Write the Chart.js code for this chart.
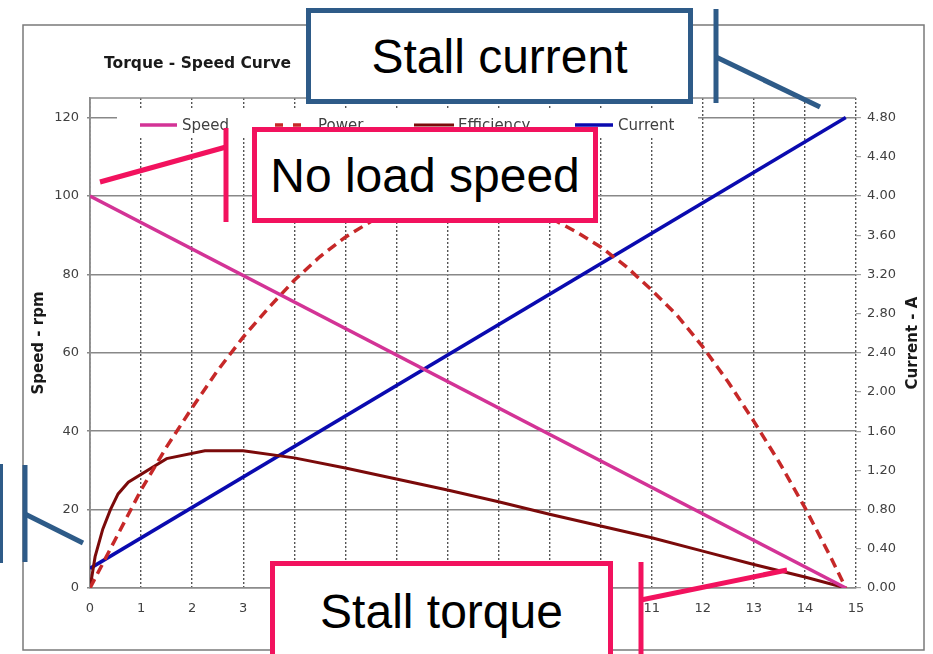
<!DOCTYPE html>
<html>
<head>
<meta charset="utf-8">
<script src="https://cdn.jsdelivr.net/npm/chart.js@4.4.1/dist/chart.umd.min.js"></script>
<style>
  html, body { margin: 0; padding: 0; background: #fff; }
  #wrap { position: relative; width: 933px; height: 654px; overflow: hidden; }
  #chart { position: absolute; left: 0; top: 0; }
  svg { position: absolute; left: 0; top: 0; }
  .callout {
    position: absolute; box-sizing: border-box; background: #fff;
    border: 5px solid; color: #000;
    font-family: 'Liberation Sans', Arial, sans-serif; font-size: 48px;
    display: flex; align-items: center; justify-content: center; white-space: nowrap;
  }
  .blue { border-color: #2E5B88; }
  .pink { border-color: #F2125E; }
</style>
</head>
<body>
<div id="wrap">
  <canvas id="chart" width="933" height="654"></canvas>
  <svg width="933" height="654">
    <g stroke="#2E5B88" stroke-width="5">
      <line x1="716" y1="9" x2="716" y2="103" />
      <line x1="716" y1="57" x2="820" y2="107" />
      <line x1="25" y1="465" x2="25" y2="562" />
      <line x1="25" y1="514" x2="83" y2="543" />
    </g>
    <g stroke="#F2125E" stroke-width="5">
      <line x1="226" y1="128" x2="226" y2="222" />
      <line x1="226" y1="147" x2="100" y2="182" />
      <line x1="641" y1="562" x2="641" y2="660" />
      <line x1="641" y1="600" x2="787" y2="570" />
    </g>
  </svg>
  <div class="callout blue" style="left:306px;top:8px;width:387px;height:96px">Stall current</div>
  <div class="callout pink" style="left:252px;top:127px;width:346px;height:96px">No load speed</div>
  <div class="callout pink" style="left:270px;top:561px;width:343px;height:96px;border-bottom:none">Stall torque</div>
  <div class="callout blue" style="left:-300px;top:464px;width:303px;height:99px"></div>
</div>
<script>
// torque axis (x) and the four curves
const torqueEnds = [0, 14.8];
const speedRpm = [100, 0];
const currentAmps = [0.2, 4.8];

const powerTorque = [0, 0.5, 1, 1.5, 2, 2.5, 3, 3.5, 4, 4.5, 5, 5.5, 6, 6.5, 7, 7.5,
  8, 8.5, 9, 9.5, 10, 10.5, 11, 11.5, 12, 12.5, 13, 13.5, 14, 14.5, 14.8];
const powerValues = [0, 12.5, 25, 36, 46, 55.5, 64, 71.5, 78.5, 84.5, 89.5, 93.5, 96.5, 98.5, 99.5, 99.8,
  99, 97.5, 94.5, 91, 87, 82, 76, 69.5, 61.5, 52.5, 42.5, 32, 20.5, 8, 0];

const effTorque = [0, 0.1, 0.25, 0.4, 0.55, 0.75, 1.5, 2.25, 3, 4, 5, 6, 7, 8, 9, 10, 11, 12, 13, 14, 14.8];
const effValues = [0, 8, 15, 20, 24, 27, 33, 35, 35, 33.2, 30.6, 27.8, 25, 22, 18.8, 15.8, 12.8, 9.4, 6, 2.8, 0];

const seriesNames = ['Speed', 'Power', 'Efficiency', 'Current'];
const chartTitle = 'Torque - Speed Curve';
const leftTitle = 'Speed - rpm';
const rightTitle = 'Current - A';

const pairs = (xs, ys) => xs.map((x, i) => ({ x: x, y: ys[i] }));

Chart.defaults.font.family = '"DejaVu Sans", Verdana, sans-serif';
Chart.defaults.color = '#404040';

// frame, title, axis titles and the legend inside the plot
const decor = {
  id: 'decor',
  beforeDatasetsDraw(chart) {
    const { ctx, chartArea: a } = chart;
    ctx.save();
    ctx.strokeStyle = '#8c8c8c';
    ctx.lineWidth = 1.5;
    ctx.beginPath();
    ctx.moveTo(a.left, a.bottom);
    ctx.lineTo(a.left, a.top);
    ctx.lineTo(a.right, a.top);
    ctx.stroke();
    ctx.fillStyle = '#fff';
    ctx.fillRect(117, 110, 581, 28);
    ctx.restore();
  },
  afterDraw(chart) {
    const { ctx, chartArea: a } = chart;
    const midY = (a.top + a.bottom) / 2;
    ctx.save();
    ctx.strokeStyle = '#7a7a7a';
    ctx.lineWidth = 1.5;
    ctx.strokeRect(23, 25, 901, 625);

    ctx.fillStyle = '#1a1a1a';
    ctx.font = 'bold 15.5px "DejaVu Sans"';
    ctx.textBaseline = 'alphabetic';
    ctx.textAlign = 'left';
    ctx.fillText(chartTitle, 104, 68);

    ctx.font = 'bold 15px "DejaVu Sans"';
    ctx.textAlign = 'center';
    ctx.textBaseline = 'middle';
    [[39, leftTitle], [913, rightTitle]].forEach(([x, t]) => {
      ctx.save();
      ctx.translate(x, midY);
      ctx.rotate(-Math.PI / 2);
      ctx.fillText(t, 0, 0);
      ctx.restore();
    });

    // legend
    const items = [[140, 177, 182], [275, 303, 318], [414, 454, 458], [575, 613, 618]];
    ctx.font = '15px "DejaVu Sans"';
    ctx.textAlign = 'left';
    ctx.textBaseline = 'alphabetic';
    chart.data.datasets.forEach((ds, i) => {
      const [x0, x1, tx] = items[i];
      ctx.strokeStyle = ds.borderColor;
      ctx.lineWidth = ds.borderWidth;
      ctx.setLineDash(ds.borderDash ? [8, 10] : []);
      ctx.beginPath();
      ctx.moveTo(x0, 125);
      ctx.lineTo(x1, 125);
      ctx.stroke();
      ctx.setLineDash([]);
      ctx.fillStyle = '#404040';
      ctx.fillText(ds.label, tx, 130);
    });
    ctx.restore();
  }
};

new Chart(document.getElementById('chart'), {
  type: 'line',
  data: {
    datasets: [
      { label: seriesNames[0], data: pairs(torqueEnds, speedRpm), borderColor: '#D33396', borderWidth: 3.5, yAxisID: 'y' },
      { label: seriesNames[1], data: pairs(powerTorque, powerValues), borderColor: '#C62828', borderWidth: 3.5, borderDash: [10, 6], yAxisID: 'y' },
      { label: seriesNames[2], data: pairs(effTorque, effValues), borderColor: '#7B0A0A', borderWidth: 3, yAxisID: 'y' },
      { label: seriesNames[3], data: pairs(torqueEnds, currentAmps), borderColor: '#0A0AAF', borderWidth: 3.5, yAxisID: 'y1' }
    ]
  },
  options: {
    responsive: false,
    animation: false,
    layout: { padding: { top: 98, left: 0, right: 0, bottom: 0 } },
    elements: { point: { radius: 0 }, line: { tension: 0, fill: false } },
    plugins: { legend: { display: false }, title: { display: false }, tooltip: { enabled: false } },
    scales: {
      x: {
        type: 'linear', min: 0, max: 15,
        ticks: { stepSize: 1, padding: 13, maxRotation: 0, font: { size: 13 } },
        grid: { color: '#555', lineWidth: 1.4, drawTicks: false },
        border: { display: true, color: '#8c8c8c', width: 1.5, dash: [2, 2] },
        afterFit: s => { s.height = 66; }
      },
      y: {
        position: 'left', min: 0, max: 125,
        ticks: { stepSize: 20, padding: 8, font: { size: 13 } },
        afterBuildTicks: s => { s.ticks = s.ticks.filter(t => t.value <= 120); },
        grid: { color: '#888', lineWidth: 1.6, tickLength: 3 },
        border: { display: true, color: '#888', width: 1.5 },
        afterFit: s => { s.width = 90; }
      },
      y1: {
        position: 'right', min: 0, max: 5,
        ticks: { stepSize: 0.4, padding: 6, font: { size: 13 }, callback: v => Number(v).toFixed(2) },
        afterBuildTicks: s => { s.ticks = s.ticks.filter(t => t.value <= 4.81); },
        grid: { drawOnChartArea: false, color: '#a0a0a0', lineWidth: 1.2, tickLength: 5 },
        border: { display: false },
        afterFit: s => { s.width = 77; }
      }
    }
  },
  plugins: [decor]
});
</script>
</body>
</html>
